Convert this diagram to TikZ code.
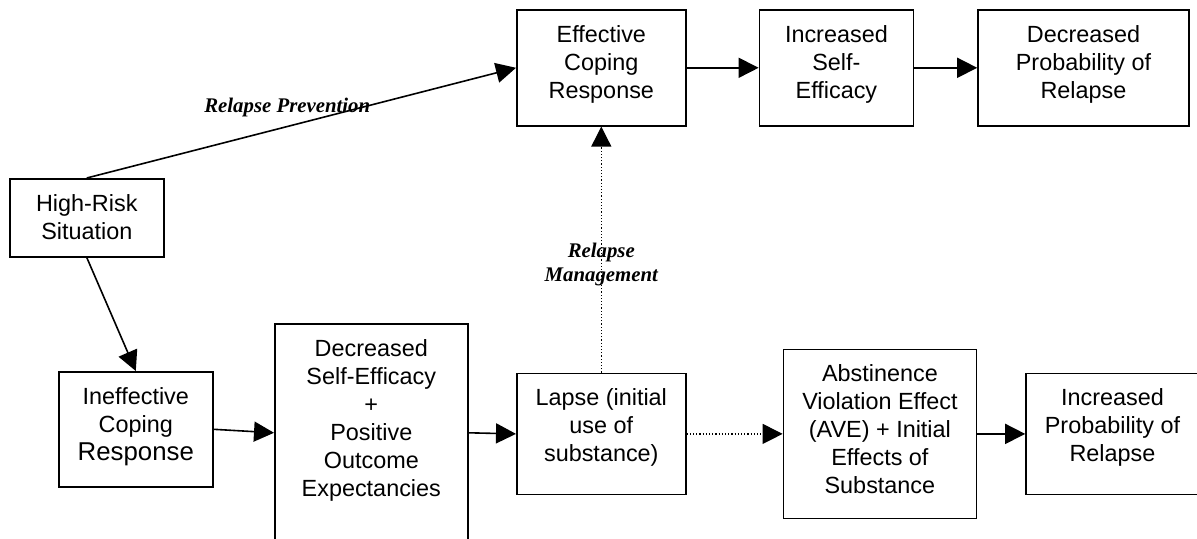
\documentclass[tikz,border=0pt]{standalone}
\usepackage{fontspec}
\setmainfont{Liberation Sans}
\newfontfamily\labelfont{Liberation Serif}
\usetikzlibrary{arrows.meta, positioning}

\begin{document}
\begin{tikzpicture}[
						x=0.5pt, y=-0.5pt,
						>={Triangle[length=10pt, width=10pt]},
						box/.style 2 args = {draw, line width=0.8pt, inner sep=0pt,
							execute at begin node={\begin{minipage}[c][#2][t]{#1}\centering\fontsize{11.7}{14}\selectfont\vspace*{7.8pt}},
							execute at end node={\end{minipage}}},
						flow/.style = {line width=0.8pt},
						dots/.style = {line width=0.6pt, densely dotted},
						lbl/.style = {font=\labelfont\bfseries\itshape\fontsize{10.4}{12}\selectfont, align=center}
					]
\useasboundingbox (0,0) rectangle (1197,539);

\node[box={77pt}{39pt}] (high) [anchor=north west] at (9,178) {High-Risk\\Situation};
\node[box={84.5pt}{58pt}] (eff) [anchor=north west] at (516,9) {Effective\\Coping\\Response};
\node[box={77pt}{58pt}] (incse) [right=36pt of eff] {Increased\\Self-\\Efficacy};
\node[box={105.5pt}{58pt}] (decprob) [right=31.5pt of incse] {Decreased\\Probability of\\Relapse};
\node[box={77pt}{57.5pt}] (ineff) [anchor=north west] at (58,371) {Ineffective\\Coping\\{\fontsize{12.9}{14}\selectfont Response}};
\node[box={96.5pt}{109pt}] (decse) [anchor=north west] at (274,323) {Decreased\\Self-Efficacy\\+\\Positive\\Outcome\\Expectancies};
\node[box={84.5pt}{60.5pt}] (lapse) [below=123pt of eff] {Lapse (initial\\use of\\substance)};
\node[box={96.5pt}{84.5pt}] (ave) [right=48pt of lapse] {Abstinence\\Violation Effect\\(AVE) + Initial\\Effects of\\Substance};
\node[box={86.5pt}{60.5pt}] (incprob) [right=24pt of ave] {Increased\\Probability of\\Relapse};

\draw[flow, ->] (high.north) -- node[lbl, pos=.467, yshift=9.5pt] (prev) {Relapse Prevention} (eff.west);
\draw[flow, ->] (high.south) -- (ineff.north);
\draw[flow, ->] (ineff.east) -- (decse.west);
\draw[flow, ->] (decse.east) -- (lapse.west);
\draw[dots, ->] (lapse.east) -- (ave.west);
\draw[flow, ->] (ave.east) -- (incprob.west);
\draw[dots, ->] (lapse.north) -- node[lbl, pos=.44] (mgmt) {Relapse\\Management} (eff.south);
\draw[flow, ->] (eff.east) -- (incse.west);
\draw[flow, ->] (incse.east) -- (decprob.west);
\end{tikzpicture}
\end{document}
